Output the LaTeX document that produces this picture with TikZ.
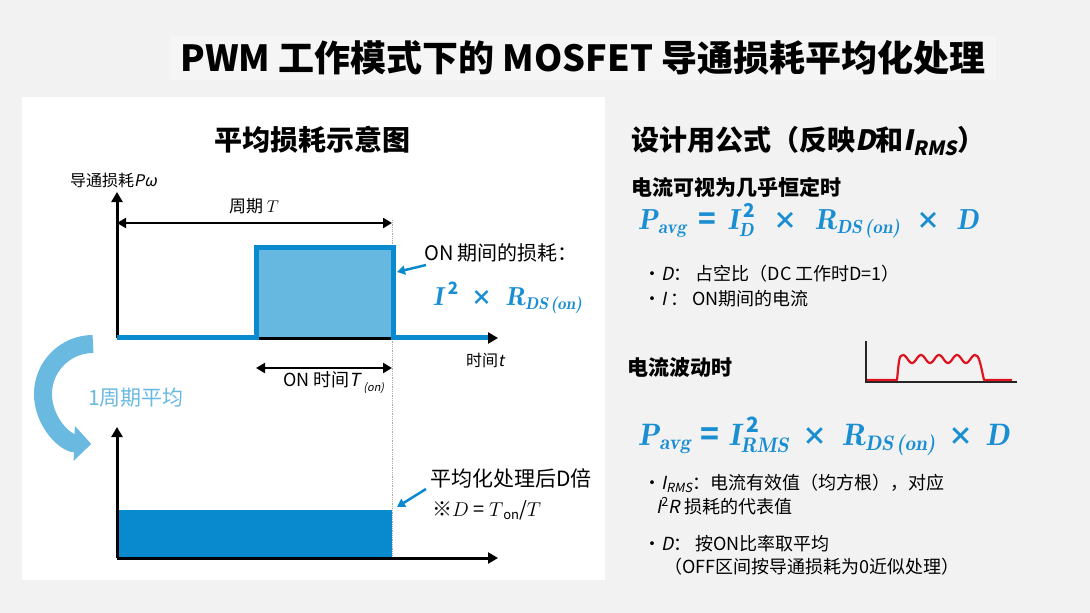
\documentclass[tikz,border=0pt]{standalone}
\usepackage{fix-cm}
\usepackage{fontspec}
\setmainfont{Noto Sans CJK SC}
\newfontfamily\slantfont{Noto Sans CJK SC}[FakeSlant=0.2]
\usetikzlibrary{arrows.meta}

\definecolor{bggray}{HTML}{F2F2F2}
\definecolor{bandgray}{HTML}{F5F5F5}
\definecolor{pulseblue}{HTML}{0A8ACE}
\definecolor{lightpulse}{HTML}{66B8E1}
\definecolor{arcblue}{HTML}{6AB9E1}
\definecolor{fmlblue}{HTML}{1A8ED3}
\definecolor{ripplered}{HTML}{E0141E}
\definecolor{dotgray}{HTML}{A8A8A8}

\newcommand\setfs[1]{\fontsize{#1}{#1}\selectfont}
% bold italic serif pieces of the formulas
\newcommand\fmlit[1]{{\fontfamily{lmr}\fontseries{b}\fontshape{it}\selectfont #1}}
\newcommand\subfs{19}
\newcommand\fmlsub[2]{$\hbox{\fmlit{#1}}_{\hbox{\setfs{\subfs}\fmlit{#2}}}$}
\newcommand\fmlsup[2]{$\hbox{\fmlit{#1}\,}^{\hbox{\setfs{\subfs}\bfseries #2}}$}
\newcommand\fmlss[3]{$\hbox{\fmlit{#1}}_{\hbox{\setfs{\subfs}\fmlit{#2}}}^{\hbox{\,\setfs{\subfs}\bfseries #3}}$}
% operator with its gaps: size, gap, symbol
\newcommand\fop[3]{\hspace{#2}{\setfs{#1}#3}\hspace{#2}}

\tikzset{
  txt/.style={inner sep=0pt, anchor=west},
  axis/.style={line width=3pt, -{Triangle[length=10pt,width=11pt]}},
  span/.style={line width=2pt, {Triangle[length=9pt,width=10pt]}-{Triangle[length=9pt,width=10pt]}},
  pointer/.style={pulseblue, line width=2.5pt, -{Triangle[length=8pt,width=9pt]}},
}

\begin{document}
\begin{tikzpicture}[x=1pt,y=-1pt]
  \fill[bggray] (0,0) rectangle (1090,613);
  \fill[white] (22,97) rectangle (605,580);
  \useasboundingbox (0,0) rectangle (1090,613);

  \node[fill=bandgray, inner xsep=10pt, inner ysep=5pt, font=\setfs{36}\bfseries] (title) at (583,58) {PWM 工作模式下的 MOSFET 导通损耗平均化处理};

  % left panel: upper chart
  \node[font=\setfs{28}\bfseries] (chartttl) at (312,140) {平均损耗示意图};
  \node[txt, font=\setfs{16}] (ylab) at (70,180) {导通损耗{\slantfont Pω}};
  \coordinate (o1) at (117,338);
  \coordinate (y1) at (117,192);
  \coordinate (x1) at (498,338);
  \coordinate (p1) at (256,337);
  \coordinate (p2) at (256,247);
  \coordinate (p3) at (393,247);
  \coordinate (p4) at (393,337);
  \coordinate (e1) at (488,337);
  \fill[lightpulse] (p1) rectangle (p3);
  \draw[dotgray, densely dotted, line width=0.8pt] (392,220) -- (392,558);
  \draw[axis] (o1) -- (x1);
  \draw[axis] (o1) -- (y1);
  \draw[pulseblue, line width=5pt] (o1 |- p1) -- (p1) -- (p2) -- (p3) -- (p4) -- (e1);

  \coordinate (t0) at (117,223);
  \coordinate (t1) at (392,223);
  \draw[span] (t0) -- (t1);
  \node[font=\setfs{17}] (period) at (254,206) {周期 $T$};
  \coordinate (n0) at (256,368);
  \coordinate (n1) at (392,368);
  \draw[span] (n0) -- (n1);
  \node[txt, font=\setfs{18}] (ontime) at (283,383) {ON 时间{\slantfont T}\,\raisebox{-5pt}{\setfs{11}\slantfont (on)}};
  \node[txt, font=\setfs{16}] (tlab) at (466,360) {时间{\slantfont t}};

  \node[txt, font=\setfs{20}] (onloss) at (424,253) {ON 期间的损耗：};
  \node[txt, fmlblue, font=\setfs{26}\bfseries] (onfml) at (433,298) {\renewcommand\subfs{17}\fmlsup{I}{2}\fop{21}{0.5em}{×}\fmlsub{R}{DS\,(on)}};
  \coordinate (a0) at (426,265);
  \coordinate (a1) at (397,272);
  \draw[pointer] (a0) -- (a1);

  % averaging arrow
  \draw[arcblue, line width=18pt, -{Triangle[length=17pt,width=34pt]}] (93,344) arc[start angle=-90, end angle=-268, radius=50];
  \node[txt, arcblue, font=\setfs{21}] (avglab) at (88,398) {1周期平均};

  % left panel: lower chart
  \coordinate (o2) at (117,558);
  \coordinate (y2) at (117,427);
  \coordinate (x2) at (498,558);
  \fill[pulseblue] (117,510) rectangle (392,558);
  \draw[axis] (o2) -- (x2);
  \draw[axis] (o2) -- (y2);
  \node[txt, font=\setfs{21}] (avgd) at (430,478) {平均化处理后D倍};
  \node[txt, font=\setfs{20}] (dnote) at (432,510) {※$D$ = $T$\raisebox{-3pt}{\setfs{13}on}/$T$};
  \coordinate (b0) at (426,489);
  \coordinate (b1) at (397,507);
  \draw[pointer] (b0) -- (b1);

  % right side
  \node[txt, font=\setfs{28}\bfseries] (fmlttl) at (631,141) {设计用公式（反映{\slantfont D}和{\slantfont I}\textsubscript{\slantfont RMS}）};
  \node[txt, font=\setfs{21}\bfseries] (case1) at (631,187) {电流可视为几乎恒定时};
  \node[txt, fmlblue, font=\setfs{29}\bfseries] (fml1) at (638,221) {\fmlsub{P}{avg}\fop{29}{0.4em}{=}\fmlss{I}{D}{2}\fop{24}{0.6em}{×}\fmlsub{R}{DS\,(on)}\fop{24}{0.55em}{×}\fmlit{D}};
  \node[txt, font=\setfs{18}] (bul1) at (643,274) {・{\slantfont D}： 占空比（DC 工作时D=1）};
  \node[txt, font=\setfs{18}] (bul2) at (643,299) {・{\slantfont I} ： ON期间的电流};

  \node[txt, font=\setfs{21}\bfseries] (case2) at (627,367) {电流波动时};
  \coordinate (w0) at (866,382);
  \coordinate (wy) at (866,341);
  \coordinate (wx) at (1017,382);
  \draw[black!85, line width=1.5pt] (wy) -- (w0) -- (wx);
  \draw[ripplered, line width=2.2pt, line join=round]
    (867,380) -- (897,380) .. controls (899,360) and (899,355) .. (903,355)
    plot[domain=903:975, samples=80] (\x, {359 - 4*cos((\x-903)*20)})
    .. controls (979,355) and (980,362) .. (984,380) -- (1012,380);

  \node[txt, fmlblue, font=\setfs{31}\bfseries] (fml2) at (638,436) {\renewcommand\subfs{21}\fmlsub{P}{avg}\fop{31}{0.3em}{=}\fmlss{I}{RMS}{2}\fop{25}{0.45em}{×}\fmlsub{R}{DS\,(on)}\fop{25}{0.4em}{×}\fmlit{D}};
  \node[txt, font=\setfs{18}] (bul3) at (643,483) {・{\slantfont I}\textsubscript{\slantfont RMS}：电流有效值（均方根），对应};
  \node[txt, font=\setfs{18}] (bul3b) at (656,506) {{\slantfont I}\textsuperscript{2}{\slantfont R} 损耗的代表值};
  \node[txt, font=\setfs{18}] (bul4) at (643,544) {・{\slantfont D}： 按ON比率取平均};
  \node[txt, font=\setfs{18}] (bul4b) at (664,567) {（OFF区间按导通损耗为0近似处理）};
\end{tikzpicture}
\end{document}
